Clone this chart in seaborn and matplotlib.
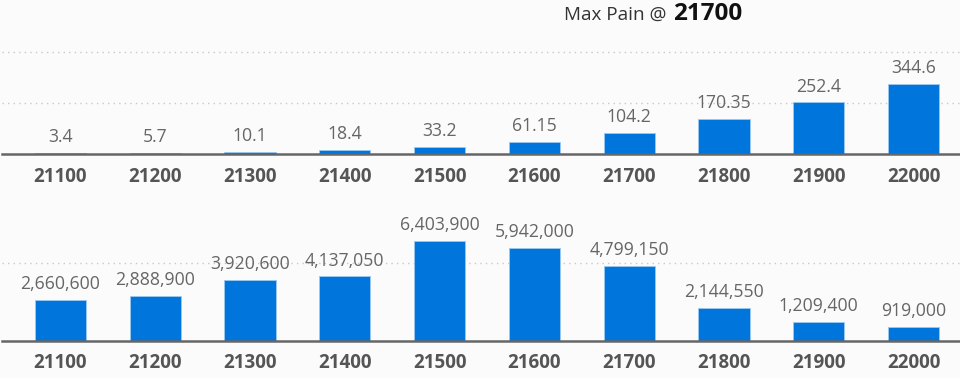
import matplotlib
matplotlib.use('Agg')
import matplotlib.pyplot as plt
import seaborn as sns
import pandas as pd

strikes = ['21100', '21200', '21300', '21400', '21500',
           '21600', '21700', '21800', '21900', '22000']
premium = [3.4, 5.7, 10.1, 18.4, 33.2, 61.15, 104.2, 170.35, 252.4, 344.6]
pain = [2660600, 2888900, 3920600, 4137050, 6403900,
        5942000, 4799150, 2144550, 1209400, 919000]
premium_labels = ['3.4', '5.7', '10.1', '18.4', '33.2', '61.15',
                  '104.2', '170.35', '252.4', '344.6']
max_pain = '21700'

sns.set_style('white')
plt.rcParams['font.family'] = ['Open Sans', 'DejaVu Sans']

bg = '#fbfbfb'
bar_color = '#0075dc'

fig = plt.figure(figsize=(9.6, 3.78), dpi=100, facecolor=bg)

ax_top = fig.add_axes([2 / 960, (378 - 154) / 378, 958 / 960, 119 / 378])
ax_bot = fig.add_axes([2 / 960, (378 - 341) / 378, 958 / 960, 136 / 378])

df_top = pd.DataFrame({'strike': strikes, 'valor': premium})
df_bot = pd.DataFrame({'strike': strikes, 'valor': pain})


def style_axis(ax, ymax, grid_step):
    ax.set_facecolor(bg)
    ax.set_xlim(-0.617, 9.49)
    ax.set_ylim(0, ymax)
    ax.set_yticks([grid_step * k for k in range(1, int(ymax // grid_step) + 1)])
    ax.yaxis.grid(True, color='#c8c8c8', linestyle=(0, (1, 3)), linewidth=1)
    ax.set_axisbelow(True)
    ax.set_yticklabels([])
    ax.tick_params(axis='y', length=0)
    ax.tick_params(axis='x', length=0, pad=9, labelsize=13.5, labelcolor='#555555')
    for lbl in ax.get_xticklabels():
        lbl.set_fontweight('bold')
    for side in ['top', 'right', 'left']:
        ax.spines[side].set_visible(False)
    ax.spines['bottom'].set_color('#666666')
    ax.spines['bottom'].set_linewidth(1.8)
    ax.set_xlabel('')
    ax.set_ylabel('')


# painel de cima: premio
sns.barplot(data=df_top, x='strike', y='valor', color=bar_color, saturation=1,
            width=0.54, edgecolor='#9cc8f0', linewidth=0.6, ax=ax_top)
style_axis(ax_top, 583, 250)
for i, valor in enumerate(premium):
    ax_top.annotate(premium_labels[i], (i, valor), xytext=(0, 5),
                    textcoords='offset points', ha='center', va='bottom',
                    fontsize=12.7, color='#666666')

# painel de baixo: max pain
sns.barplot(data=df_bot, x='strike', y='valor', color=bar_color, saturation=1,
            width=0.54, edgecolor='#9cc8f0', linewidth=0.6, ax=ax_bot)
style_axis(ax_bot, 8.72e6, 5e6)
for i, valor in enumerate(pain):
    ax_bot.annotate(f'{valor:,}', (i, valor), xytext=(0, 5),
                    textcoords='offset points', ha='center', va='bottom',
                    fontsize=12.7, color='#666666')

# titulo
fig.text(667 / 960, (378 - 20) / 378, 'Max Pain @', ha='right', va='baseline',
         fontsize=13.6, color='#333333')
fig.text(673 / 960, (378 - 20) / 378, max_pain, ha='left', va='baseline',
         fontsize=17.5, fontweight='bold', color='#111111')

fig.savefig('out.png', dpi=100, facecolor=bg)
